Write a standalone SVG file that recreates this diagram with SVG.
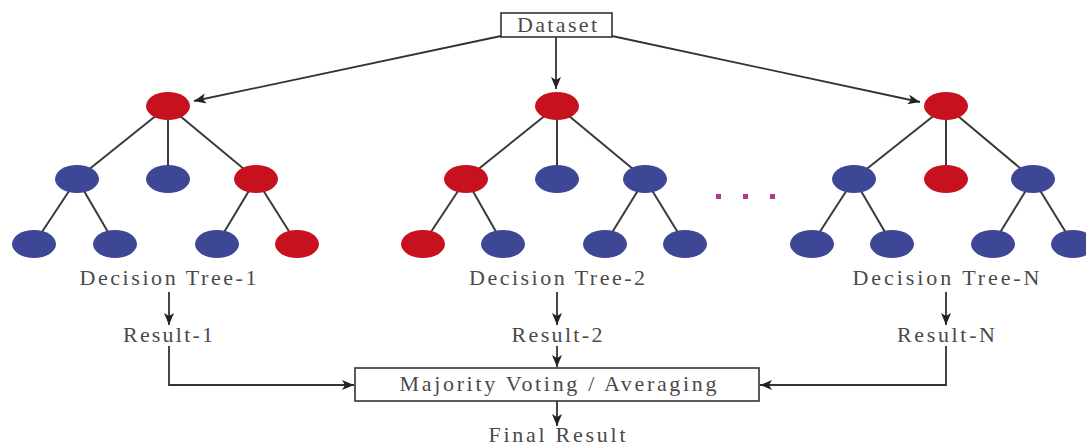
<svg xmlns="http://www.w3.org/2000/svg" width="1086" height="447" viewBox="0 0 1086 447">
<style>
.bg{fill:#ffffff}
.r{fill:#c8111f}
.b{fill:#3e4795}
.e{stroke:#3a3a3a;stroke-width:2;fill:none}
.c{stroke:#333;stroke-width:1.8;fill:none}
.box{fill:#fff;stroke:#333;stroke-width:1.6}
.t{font-family:"Liberation Serif",serif;font-size:22px;fill:#4a4a4a;text-anchor:middle}
.dot{fill:#b2398c}
</style>
<defs>
<marker id="ah" markerWidth="14" markerHeight="12" refX="12" refY="5" orient="auto" markerUnits="userSpaceOnUse">
<path d="M0,0 L12,5 L0,10 L3,5 z" fill="#222"/>
</marker>
</defs>
<rect class="bg" x="0" y="0" width="1086" height="447"/>

<g id="connectors">
<line class="c" x1="556" y1="37" x2="556" y2="89" marker-end="url(#ah)"/>
<line class="c" x1="501" y1="36" x2="194" y2="101" marker-end="url(#ah)"/>
<line class="c" x1="612" y1="36" x2="920" y2="102" marker-end="url(#ah)"/>
<line class="c" x1="169" y1="292" x2="169" y2="325" marker-end="url(#ah)"/>
<line class="c" x1="557" y1="292" x2="557" y2="325" marker-end="url(#ah)"/>
<line class="c" x1="946" y1="292" x2="946" y2="325" marker-end="url(#ah)"/>
<line class="c" x1="557" y1="346" x2="557" y2="367" marker-end="url(#ah)"/>
<polyline class="c" points="169,346 169,385 354,385" marker-end="url(#ah)"/>
<polyline class="c" points="946,346 946,385 760,385" marker-end="url(#ah)"/>
<line class="c" x1="557" y1="401" x2="557" y2="426" marker-end="url(#ah)"/>
</g>

<g id="dataset">
<rect class="box" x="501" y="13" width="111" height="24"/>
<text class="t" x="557" y="32" textLength="80" lengthAdjust="spacing">Dataset</text>
</g>

<g id="tree1">
<g class="e">
<line x1="168" y1="106" x2="77" y2="179"/><line x1="168" y1="106" x2="168" y2="179"/><line x1="168" y1="106" x2="256" y2="179"/>
<line x1="77" y1="179" x2="34" y2="244"/><line x1="77" y1="179" x2="115" y2="244"/>
<line x1="256" y1="179" x2="217" y2="244"/><line x1="256" y1="179" x2="297" y2="244"/>
</g>
<ellipse class="r" cx="168" cy="106" rx="22" ry="14"/>
<ellipse class="b" cx="77" cy="179" rx="22" ry="14"/>
<ellipse class="b" cx="168" cy="179" rx="22" ry="14"/>
<ellipse class="r" cx="256" cy="179" rx="22" ry="14"/>
<ellipse class="b" cx="34" cy="244" rx="22" ry="14"/>
<ellipse class="b" cx="115" cy="244" rx="22" ry="14"/>
<ellipse class="b" cx="217" cy="244" rx="22" ry="14"/>
<ellipse class="r" cx="297" cy="244" rx="22" ry="14"/>
<text class="t" x="168" y="285" textLength="177" lengthAdjust="spacing">Decision Tree-1</text>
</g>

<g id="tree2">
<g class="e">
<line x1="557" y1="106" x2="466" y2="179"/><line x1="557" y1="106" x2="557" y2="179"/><line x1="557" y1="106" x2="645" y2="179"/>
<line x1="466" y1="179" x2="423" y2="244"/><line x1="466" y1="179" x2="503" y2="244"/>
<line x1="645" y1="179" x2="605" y2="244"/><line x1="645" y1="179" x2="685" y2="244"/>
</g>
<ellipse class="r" cx="557" cy="106" rx="22" ry="14"/>
<ellipse class="r" cx="466" cy="179" rx="22" ry="14"/>
<ellipse class="b" cx="557" cy="179" rx="22" ry="14"/>
<ellipse class="b" cx="645" cy="179" rx="22" ry="14"/>
<ellipse class="r" cx="423" cy="244" rx="22" ry="14"/>
<ellipse class="b" cx="503" cy="244" rx="22" ry="14"/>
<ellipse class="b" cx="605" cy="244" rx="22" ry="14"/>
<ellipse class="b" cx="685" cy="244" rx="22" ry="14"/>
<text class="t" x="557" y="285" textLength="176" lengthAdjust="spacing">Decision Tree-2</text>
</g>

<g id="dots">
<rect class="dot" x="716" y="194" width="5" height="5"/>
<rect class="dot" x="743" y="194" width="5" height="5"/>
<rect class="dot" x="770" y="194" width="5" height="5"/>
</g>

<g id="treeN">
<g class="e">
<line x1="946" y1="106" x2="854" y2="179"/><line x1="946" y1="106" x2="946" y2="179"/><line x1="946" y1="106" x2="1033" y2="179"/>
<line x1="854" y1="179" x2="812" y2="244"/><line x1="854" y1="179" x2="892" y2="244"/>
<line x1="1033" y1="179" x2="993" y2="244"/><line x1="1033" y1="179" x2="1073" y2="244"/>
</g>
<ellipse class="r" cx="946" cy="106" rx="22" ry="14"/>
<ellipse class="b" cx="854" cy="179" rx="22" ry="14"/>
<ellipse class="r" cx="946" cy="179" rx="22" ry="14"/>
<ellipse class="b" cx="1033" cy="179" rx="22" ry="14"/>
<ellipse class="b" cx="812" cy="244" rx="22" ry="14"/>
<ellipse class="b" cx="892" cy="244" rx="22" ry="14"/>
<ellipse class="b" cx="993" cy="244" rx="22" ry="14"/>
<ellipse class="b" cx="1073" cy="244" rx="22" ry="14"/>
<text class="t" x="946" y="285" textLength="187" lengthAdjust="spacing">Decision Tree-N</text>
</g>

<g id="result1"><text class="t" x="168" y="342" textLength="90" lengthAdjust="spacing">Result-1</text></g>
<g id="result2"><text class="t" x="557" y="342" textLength="91" lengthAdjust="spacing">Result-2</text></g>
<g id="resultN"><text class="t" x="946" y="342" textLength="98" lengthAdjust="spacing">Result-N</text></g>

<g id="majority">
<rect class="box" x="355" y="368" width="404" height="33"/>
<text class="t" x="558" y="391" textLength="317" lengthAdjust="spacing">Majority Voting / Averaging</text>
</g>

<g id="final"><text class="t" x="557" y="442" textLength="137" lengthAdjust="spacing">Final Result</text></g>
</svg>
